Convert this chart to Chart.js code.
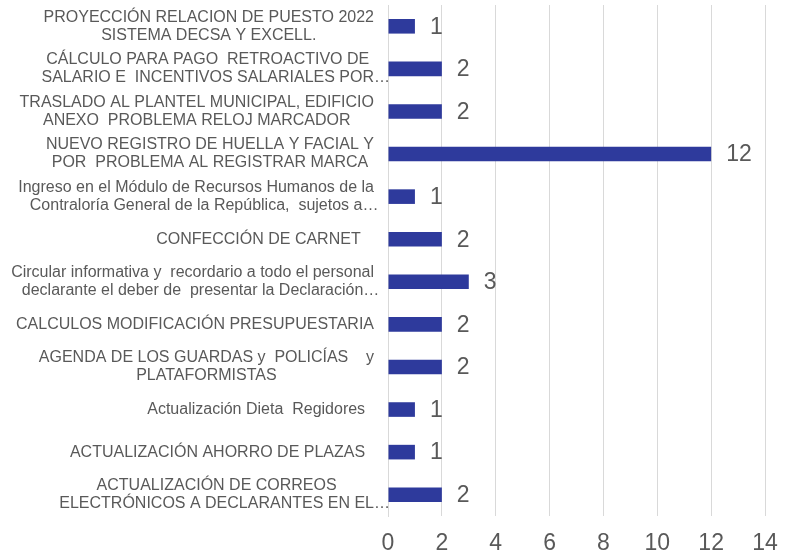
<!DOCTYPE html>
<html>
<head>
<meta charset="utf-8">
<script src="https://cdn.jsdelivr.net/npm/chart.js@4/dist/chart.umd.min.js"></script>
<style>
  html, body { margin: 0; padding: 0; background: #ffffff; }
  #wrap { width: 793px; height: 556px; }
</style>
</head>
<body>
<div id="wrap"><canvas id="c" width="793" height="556"></canvas></div>
<script>
const categories = [
  ["PROYECCIÓN RELACION DE PUESTO 2022", "SISTEMA DECSA Y EXCELL."],
  ["CÁLCULO PARA PAGO  RETROACTIVO DE", "SALARIO E  INCENTIVOS SALARIALES POR…"],
  ["TRASLADO AL PLANTEL MUNICIPAL, EDIFICIO", "ANEXO  PROBLEMA RELOJ MARCADOR"],
  ["NUEVO REGISTRO DE HUELLA Y FACIAL Y", "POR  PROBLEMA AL REGISTRAR MARCA"],
  ["Ingreso en el Módulo de Recursos Humanos de la", "Contraloría General de la República,  sujetos a…"],
  ["CONFECCIÓN DE CARNET   "],
  ["Circular informativa y  recordario a todo el personal", "declarante el deber de  presentar la Declaración…"],
  ["CALCULOS MODIFICACIÓN PRESUPUESTARIA"],
  ["AGENDA DE LOS GUARDAS y  POLICÍAS    y", "PLATAFORMISTAS"],
  ["Actualización Dieta  Regidores  "],
  ["ACTUALIZACIÓN AHORRO DE PLAZAS  "],
  ["ACTUALIZACIÓN DE CORREOS", "ELECTRÓNICOS A DECLARANTES EN EL…"]
];
const values = [1, 2, 2, 12, 1, 2, 3, 2, 2, 1, 1, 2];
const xTicks = [0, 2, 4, 6, 8, 10, 12, 14];

const FONT = "'Liberation Sans', Arial, sans-serif";
const TEXT = "#595959";
const BAR = "#2e3a9c";
const GRID = "#d9d9d9";

const yLabelPlugin = {
  id: 'yLabels',
  afterDraw(chart) {
    const ctx = chart.ctx;
    const y = chart.scales.y;
    const rightEdge = 374;
    const lh = 18;
    ctx.save();
    ctx.font = "16px " + FONT;
    ctx.fillStyle = TEXT;
    ctx.textBaseline = 'middle';
    categories.forEach((lines, i) => {
      const cy = y.getPixelForValue(i);
      const core = lines.map(l => l.endsWith('…') ? l.slice(0, -1) : l);
      const widths = core.map(l => ctx.measureText(l).width);
      const block = Math.max(...widths);
      const cx = rightEdge - block / 2;
      const start = cy - (lines.length - 1) * lh / 2;
      lines.forEach((l, k) => {
        ctx.textAlign = 'left';
        ctx.fillText(l, cx - widths[k] / 2, start + k * lh);
      });
    });
    ctx.restore();
  }
};

const dataLabelPlugin = {
  id: 'dataLabels',
  afterDatasetsDraw(chart) {
    const ctx = chart.ctx;
    const meta = chart.getDatasetMeta(0);
    ctx.save();
    ctx.font = "23px " + FONT;
    ctx.fillStyle = TEXT;
    ctx.textBaseline = 'middle';
    ctx.textAlign = 'left';
    meta.data.forEach((bar, i) => {
      ctx.fillText(String(values[i]), bar.x + 15, bar.y + 1);
    });
    ctx.restore();
  }
};

new Chart(document.getElementById('c'), {
  type: 'bar',
  data: {
    labels: categories,
    datasets: [{
      data: values,
      backgroundColor: BAR,
      borderWidth: 0,
      categoryPercentage: 1,
      barPercentage: 0.343
    }]
  },
  options: {
    indexAxis: 'y',
    responsive: false,
    animation: false,
    devicePixelRatio: 1,
    layout: { padding: { top: 5, right: 28, left: 0, bottom: 0 } },
    plugins: { legend: { display: false }, tooltip: { enabled: false } },
    scales: {
      x: {
        min: 0, max: 14,
        afterBuildTicks(scale) { scale.ticks = xTicks.map(v => ({ value: v })); },
        afterFit(scale) { scale.height = 40; },
        grid: { color: GRID, lineWidth: 1, drawTicks: false },
        border: { display: false },
        ticks: { font: { family: FONT, size: 23 }, color: TEXT, padding: 14 }
      },
      y: {
        afterFit(scale) { scale.width = 388; },
        grid: { display: false },
        border: { display: true, color: GRID, width: 1 },
        ticks: { display: false }
      }
    }
  },
  plugins: [yLabelPlugin, dataLabelPlugin]
});
</script>
</body>
</html>
